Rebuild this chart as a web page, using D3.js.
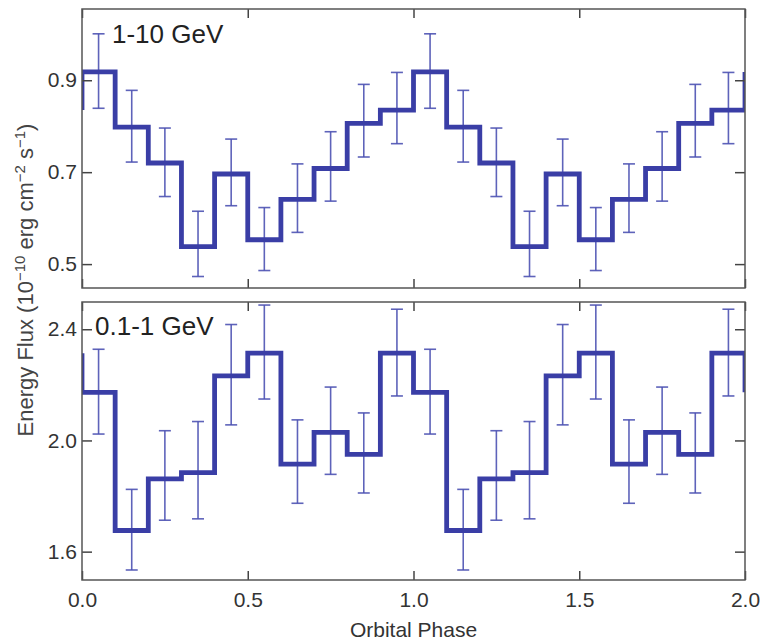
<!DOCTYPE html>
<html>
<head>
<meta charset="utf-8">
<script src="https://cdn.jsdelivr.net/npm/d3@7"></script>
<style>
  body { margin: 0; background: #fff; }
  svg text { font-family: "Liberation Sans", Arial, Helvetica, sans-serif; }
</style>
</head>
<body>
<div id="chart"></div>
<script>
// one orbit of data, bins of 0.1 in phase (bin centres); plotted twice (phase 0-2)
const phaseCenters = [0.05, 0.15, 0.25, 0.35, 0.45, 0.55, 0.65, 0.75, 0.85, 0.95];

// 1-10 GeV
const highFlux  = [0.918, 0.798, 0.720, 0.538, 0.696, 0.553, 0.641, 0.708, 0.806, 0.835];
const highLower = [0.839, 0.722, 0.647, 0.473, 0.627, 0.486, 0.569, 0.637, 0.733, 0.762];
const highUpper = [1.001, 0.878, 0.796, 0.615, 0.772, 0.623, 0.718, 0.788, 0.891, 0.917];

// 0.1-1 GeV
const lowFlux  = [2.173, 1.676, 1.862, 1.884, 2.232, 2.314, 1.915, 2.029, 1.950, 2.314];
const lowLower = [2.023, 1.534, 1.713, 1.718, 2.056, 2.149, 1.774, 1.878, 1.811, 2.160];
const lowUpper = [2.328, 1.824, 2.035, 2.068, 2.417, 2.487, 2.074, 2.192, 2.099, 2.472];

const xTicks = [0, 0.5, 1.0, 1.5, 2.0];
const highTicks = [0.5, 0.7, 0.9];
const lowTicks = [1.6, 2.0, 2.4];

const width = 763, height = 641;
const left = 82, right = 745;
const binWidth = 0.1;

const lineColor = "#3a3ea6";
const errColor = "#4d52b3";

const svg = d3.select("#chart").append("svg")
    .attr("width", width)
    .attr("height", height);

const x = d3.scaleLinear().domain([0, 2]).range([left, right]);

function makeRows(flux, lower, upper) {
    const rows = [];
    for (let cycle = 0; cycle < 2; cycle++) {
        phaseCenters.forEach((p, i) => {
            rows.push({ phase: p + cycle, v: flux[i], lo: lower[i], hi: upper[i] });
        });
    }
    return rows;
}

function drawPanel(cfg) {
    const y = d3.scaleLinear().domain(cfg.domain).range([cfg.bottom, cfg.top]);
    const g = svg.append("g");
    const rows = makeRows(cfg.flux, cfg.lower, cfg.upper);

    const clipId = "clip-" + cfg.id;
    svg.append("clipPath").attr("id", clipId)
        .append("rect")
        .attr("x", left).attr("y", cfg.top)
        .attr("width", right - left).attr("height", cfg.bottom - cfg.top);

    // error bars
    const eb = g.append("g")
        .attr("clip-path", `url(#${clipId})`)
        .attr("stroke", errColor)
        .attr("stroke-width", 1.6)
        .attr("stroke-opacity", 0.9);
    eb.selectAll("line.v").data(rows).join("line")
        .attr("class", "v")
        .attr("x1", d => x(d.phase)).attr("x2", d => x(d.phase))
        .attr("y1", d => y(d.lo)).attr("y2", d => y(d.hi));
    eb.selectAll("line.top").data(rows).join("line")
        .attr("class", "top")
        .attr("x1", d => x(d.phase) - 6).attr("x2", d => x(d.phase) + 6)
        .attr("y1", d => y(d.hi)).attr("y2", d => y(d.hi));
    eb.selectAll("line.bot").data(rows).join("line")
        .attr("class", "bot")
        .attr("x1", d => x(d.phase) - 6).attr("x2", d => x(d.phase) + 6)
        .attr("y1", d => y(d.lo)).attr("y2", d => y(d.lo));

    // step histogram, wrapping at both edges
    const pts = [[0, rows[rows.length - 1].v]];
    rows.forEach(d => pts.push([d.phase - binWidth / 2, d.v]));
    pts.push([2, rows[0].v]);
    const line = d3.line()
        .x(d => x(d[0]))
        .y(d => y(d[1]))
        .curve(d3.curveStepAfter);
    g.append("path")
        .attr("clip-path", `url(#${clipId})`)
        .attr("d", line(pts))
        .attr("fill", "none")
        .attr("stroke", lineColor)
        .attr("stroke-width", 4.8)
        .attr("stroke-linejoin", "miter");

    // axes (ticks inward)
    const yl = g.append("g").attr("transform", `translate(${left},0)`)
        .call(d3.axisLeft(y).tickValues(cfg.ticks).tickSize(-10).tickPadding(5).tickFormat(d3.format(".1f")));
    const yr = g.append("g").attr("transform", `translate(${right},0)`)
        .call(d3.axisRight(y).tickValues(cfg.ticks).tickSize(-10).tickFormat(""));
    const xt = g.append("g").attr("transform", `translate(0,${cfg.top})`)
        .call(d3.axisTop(x).tickValues(xTicks).tickSize(-9).tickFormat(""));
    const xb = g.append("g").attr("transform", `translate(0,${cfg.bottom})`)
        .call(d3.axisBottom(x).tickValues(xTicks).tickSize(-9).tickPadding(12)
            .tickFormat(cfg.xLabels ? d3.format(".1f") : ""));

    [yl, yr, xt, xb].forEach(a => {
        a.select(".domain").remove();
        a.selectAll(".tick line").attr("stroke", "#444").attr("stroke-width", 1.5);
        a.selectAll(".tick text").attr("font-size", 21).attr("fill", "#333")
            .style("font-family", "'Liberation Sans', Arial, sans-serif");
    });

    // frame
    g.append("rect")
        .attr("x", left).attr("y", cfg.top)
        .attr("width", right - left).attr("height", cfg.bottom - cfg.top)
        .attr("fill", "none")
        .attr("stroke", "#555")
        .attr("stroke-width", 1.5);

    g.append("text")
        .attr("x", cfg.labelX).attr("y", cfg.labelY)
        .attr("font-size", 26)
        .attr("fill", "#222")
        .text(cfg.label);
}

drawPanel({
    id: "high", top: 9, bottom: 288, domain: [0.448, 1.055],
    flux: highFlux, lower: highLower, upper: highUpper,
    ticks: highTicks, label: "1-10 GeV", labelX: 112, labelY: 43, xLabels: false
});

drawPanel({
    id: "low", top: 302, bottom: 580, domain: [1.498, 2.498],
    flux: lowFlux, lower: lowLower, upper: lowUpper,
    ticks: lowTicks, label: "0.1-1 GeV", labelX: 95, labelY: 335, xLabels: true
});

// axis titles
svg.append("text")
    .attr("x", (left + right) / 2).attr("y", 637)
    .attr("text-anchor", "middle")
    .attr("font-size", 21)
    .attr("fill", "#333")
    .text("Orbital Phase");

const yTitle = svg.append("text")
    .attr("transform", "translate(33,280) rotate(-90)")
    .attr("text-anchor", "middle")
    .attr("font-size", 22)
    .attr("fill", "#444");
yTitle.append("tspan").text("Energy Flux (10");
yTitle.append("tspan").attr("dy", -8).attr("font-size", 15).text("\u221210");
yTitle.append("tspan").attr("dy", 8).text(" erg cm");
yTitle.append("tspan").attr("dy", -8).attr("font-size", 15).text("\u22122");
yTitle.append("tspan").attr("dy", 8).text(" s");
yTitle.append("tspan").attr("dy", -8).attr("font-size", 15).text("\u22121");
yTitle.append("tspan").attr("dy", 8).text(")");
</script>
</body>
</html>
